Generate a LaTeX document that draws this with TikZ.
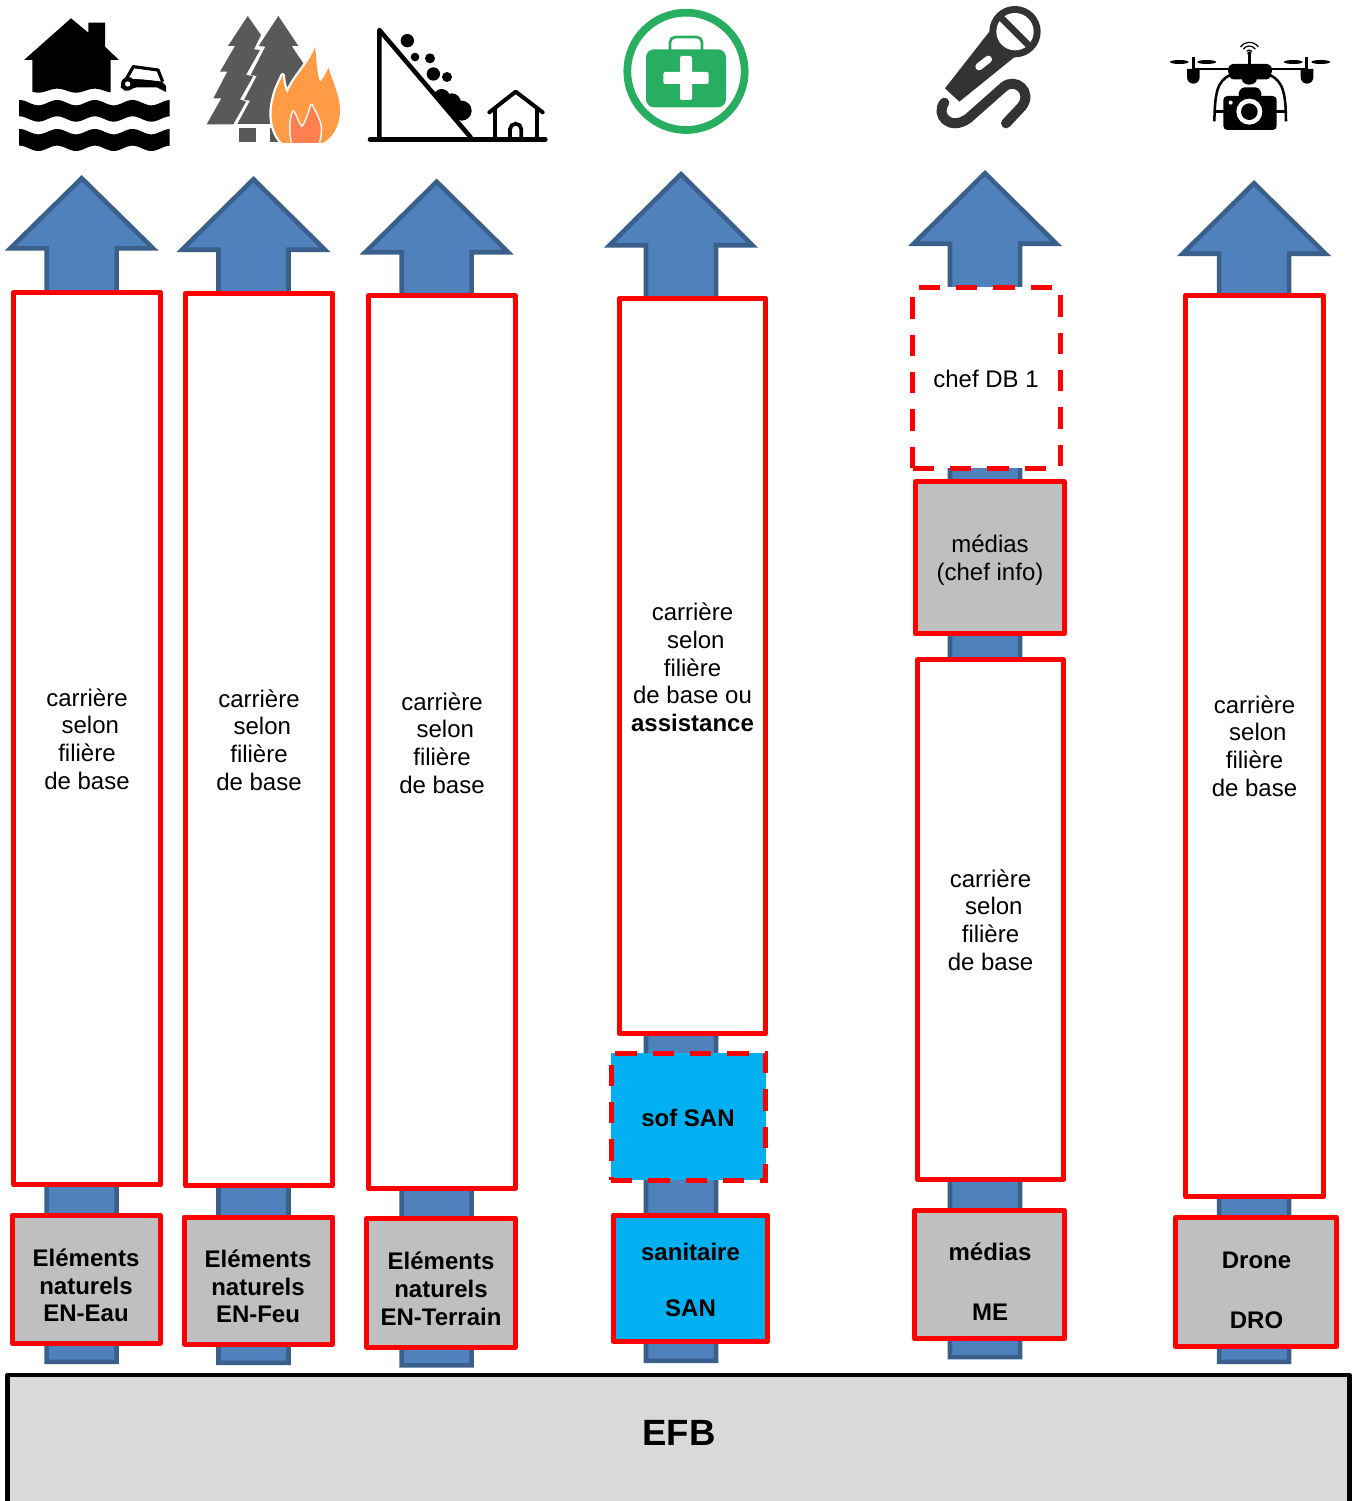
\documentclass[tikz,border=0pt]{standalone}
\usepackage{fontspec}
\setmainfont{Liberation Sans}
\definecolor{arrowfill}{HTML}{4F81BD}
\definecolor{arrowline}{HTML}{3A5F8B}
\definecolor{boxgrey}{HTML}{BFBFBF}
\definecolor{boxblue}{HTML}{00B0F0}
\definecolor{efbgrey}{HTML}{D9D9D9}
\definecolor{treegrey}{HTML}{595959}
\definecolor{flameout}{HTML}{FF9A45}
\definecolor{flamein}{HTML}{FF7F50}
\definecolor{medgreen}{HTML}{27AE60}
\definecolor{micgrey}{HTML}{333333}
\tikzset{
  redbox/.style={draw=red,line width=3.75pt,line join=round,inner sep=0pt,fill=white},
  reddash/.style={redbox,dash pattern=on 16pt off 12pt},
  txt/.style={align=center,inner sep=0pt,font=\fontsize{18pt}{20.8pt}\selectfont},
  btxt/.style={txt,font=\fontsize{18pt}{20.8pt}\selectfont\bfseries},
  icon/.style={x=.25pt,y=-.25pt},
  blockarrow/.style={draw=arrowline,fill=arrowfill,line width=3.4pt,line join=miter}
}
% cx, outer tip y, outer head-base y, outer bottom y
\newcommand{\blockarrow}[4]{%
  \draw[blockarrow] (#1,#2+3.2) -- (#1+71.5,#3-2.25) -- (#1+35,#3-2.25) -- (#1+35,#4-2.25)
    -- (#1-35,#4-2.25) -- (#1-35,#3-2.25) -- (#1-71.5,#3-2.25) -- cycle;}
% name, style, outer x0 x1 y0 y1
\newcommand{\outerbox}[6]{%
  \node[#2,minimum width={(#4-#3-5)*0.75pt},minimum height={(#6-#5-5)*0.75pt}] (#1) at ({(#3+#4)/2},{(#5+#6)/2}) {};}
\newcommand{\waveband}[2]{%
  \fill plot[domain=57:509,samples=70] (\x,{#1+8*cos((\x-115)/113*360)})
     -- plot[domain=509:57,samples=70] (\x,{#2+8*cos((\x-115)/113*360)}) -- cycle;}
\newcommand{\flameouter}{(850,432) .. controls (825,410) and (805,360) .. (820,300) .. controls (825,270) and (840,245) .. (848,225)
  .. controls (850,250) and (855,270) .. (862,280) .. controls (880,230) and (930,190) .. (945,140)
  .. controls (950,180) and (950,220) .. (960,245) .. controls (970,235) and (980,220) .. (985,202)
  .. controls (1000,250) and (1020,290) .. (1020,330) .. controls (1020,380) and (995,420) .. (960,432) -- cycle}
\newcommand{\flameinner}{(878,432) .. controls (868,400) and (870,355) .. (880,335) .. controls (890,350) and (895,375) .. (905,382)
  .. controls (918,375) and (925,340) .. (935,315) .. controls (945,340) and (965,365) .. (962,395)
  .. controls (962,410) and (958,420) .. (955,432) -- cycle}
\begin{document}
\begin{tikzpicture}[x=.75pt,y=-.75pt]
\useasboundingbox (0,0) rectangle (1357,1501);
\clip (0,0) rectangle (1357,1501);

% ---------- arrows
\blockarrow{81.7}{175}{250.7}{1364}
\blockarrow{253.5}{176}{252}{1365}
\blockarrow{436.7}{178.5}{254.5}{1367.7}
\blockarrow{681}{171}{247.5}{1363}
\blockarrow{985}{170}{246}{1359.3}
\blockarrow{1254}{180}{256}{1364}

% ---------- EFB base
\node[draw=black,fill=efbgrey,line width=3.4pt,line join=round,inner sep=0pt,
  minimum width={1342*0.75pt},minimum height={180*0.75pt}] (efb) at (678.5,1465) {};
\node[font=\fontsize{27.4pt}{32pt}\selectfont\bfseries,inner sep=0pt] (efbt) at (679,1433) {EFB};

% ---------- boxes
\outerbox{a1}{redbox}{11}{163.3}{290}{1187}
\outerbox{a2}{redbox}{183.3}{334.7}{291}{1188.3}
\outerbox{a3}{redbox}{365.7}{517.7}{293.5}{1191}
\outerbox{a4}{redbox}{616.7}{768.3}{296}{1036}
\outerbox{a5}{reddash}{910.2}{1062.5}{284.8}{470.5}
\outerbox{m5}{redbox,fill=boxgrey}{912.7}{1066.7}{479.3}{636}
\outerbox{w5}{redbox}{915}{1066}{657.3}{1182.3}
\outerbox{a6}{redbox}{1183.3}{1325.7}{292.7}{1199.3}

\outerbox{g1}{redbox,fill=boxgrey}{9.5}{163}{1213}{1345.5}
\outerbox{g2}{redbox,fill=boxgrey}{182}{335}{1214.5}{1346.5}
\outerbox{g3}{redbox,fill=boxgrey}{364}{518}{1216}{1349.5}
\node[fill=boxblue,inner sep=0pt,outer sep=0pt,minimum width={154.7*0.75pt},minimum height={127*0.75pt}] (s4) at (688.35,1116.5) {};
\draw[draw=red,line width=3.75pt,dash pattern=on 16pt off 12pt] (s4.south west) -- (s4.south east) -- (s4.north east) -- (s4.north west) -- cycle;
\outerbox{g4}{redbox,fill=boxblue}{610.7}{770}{1212.7}{1344.3}
\outerbox{g5}{redbox,fill=boxgrey}{912}{1066.7}{1207.7}{1341}
\outerbox{g6}{redbox,fill=boxgrey}{1173.3}{1339}{1215}{1349}

% ---------- texts
\node[txt] (ta1) at (87,739) {carrière\\\hspace*{.278em}selon\\filière\\de base};
\node[txt] (ta2) at (259,740) {carrière\\\hspace*{.278em}selon\\filière\\de base};
\node[txt] (ta3) at (442,743) {carrière\\\hspace*{.278em}selon\\filière\\de base};
\node[txt] (ta4) at (692.5,667.5) {carrière\\\hspace*{.278em}selon\\filière\\de base ou\\\textbf{assistance}};
\node[txt] (ta5) at (986,379) {chef DB 1};
\node[txt] (tm5) at (990,560.5) {médias\\(chef info)};
\node[txt] (tw5) at (990.5,920) {carrière\\\hspace*{.278em}selon\\filière\\de base};
\node[txt] (ta6) at (1254.5,746) {carrière\\\hspace*{.278em}selon\\filière\\de base};
\node[btxt] (tg1) at (86,1285.5) {Eléments\\naturels\\EN-Eau};
\node[btxt] (tg2) at (258,1286.5) {Eléments\\naturels\\EN-Feu};
\node[btxt] (tg3) at (441,1289) {Eléments\\naturels\\EN-Terrain};
\node[btxt] (ts4) at (688,1118) {sof SAN};
\node[btxt] (tg4) at (690.5,1280) {sanitaire\\[20.8pt]SAN};
\node[btxt] (tg5) at (990,1282) {médias\\[24.2pt]ME};
\node[btxt] (tg6) at (1256.5,1290) {Drone\\[24.2pt]DRO};

% ---------- icon: flood
\begin{scope}[icon]
\fill (213,55) -- (265,98) -- (265,68) -- (315,68) -- (315,140) -- (357,180) -- (332,180) -- (332,265)
  -- plot[domain=332:97,samples=30] (\x,{272+6*cos((\x-115)/113*360)}) -- (97,180) -- (72,180) -- cycle;
\waveband{308}{357}
\waveband{395}{445}
% car
\draw[line width=2.4pt,line join=round] (378,238) -- (400,200) -- (474,210) -- (488,245);
\fill (368,240) -- (390,232) -- (486,245) -- (498,258) -- (498,276) -- (470,262) -- (410,262) -- (375,272) -- (362,262) -- cycle;
\fill[white] (395,236) -- (402,208) -- (468,216) -- (478,242) -- cycle;
\fill (383,252) circle (20);
\fill[white] (383,252) circle (8);
\end{scope}

% ---------- icon: forest fire
\begin{scope}[icon]
\fill[treegrey] (743,48) -- (684,138) -- (705,138) -- (660,215) -- (682,215) -- (640,295) -- (664,295) -- (620,373)
  -- (700,373) -- (738,305) -- (720,298) -- (760,228) -- (738,225) -- (780,150) -- (762,148) -- (783,105) -- cycle;
\fill[treegrey] (835,48) -- (776,138) -- (796,140) -- (752,225) -- (770,228) -- (732,300) -- (750,302) -- (712,372)
  -- (880,372) -- (910,190) -- (875,138) -- (895,138) -- cycle;
\fill[treegrey] (718,385) rectangle (768,425);
\fill[treegrey] (810,385) rectangle (845,425);
\draw[white,line width=3.4pt,line join=round] \flameouter;
\fill[flameout] \flameouter;
\draw[white,line width=2.2pt,line join=round] \flameinner;
\fill[flamein] \flameinner;
\fill[white] (800,428) rectangle (1040,445);
\end{scope}

% ---------- icon: landslide
\begin{scope}[icon,xshift=262.5pt]
\draw[line width=3.4pt,line cap=round,line join=round] (60,418) -- (586,418);
\draw[line width=3.4pt,line cap=round,line join=round] (88,418) -- (88,90) -- (362,412);
\fill (172,122) circle (20) (195,171) circle (13) (240,175) circle (15) (250,222) circle (20) (291,231) circle (15);
\begin{scope}
\clip (88,90) -- (362,412) -- (500,412) -- (500,90) -- cycle;
\fill (275,292) circle (25) (305,308) circle (28) (335,332) circle (30);
\end{scope}
\draw[line width=3pt,line cap=round,line join=round] (418,337) -- (497,275) -- (578,337);
\draw[line width=3pt] (435,328) -- (435,414) (562,328) -- (562,414);
\draw[line width=2.8pt] (480,414) -- (480,388) arc (180:360:17) -- (514,414);
\end{scope}

% ---------- icon: first aid
\begin{scope}[icon,xshift=262.5pt]
\draw[medgreen,line width=5.8pt] (1008,214) circle (176);
\fill[medgreen,rounded corners=6pt] (888,148) rectangle (1128,322);
\draw[medgreen,line width=2pt,rounded corners=4pt] (960,150) -- (960,111) -- (1056,111) -- (1056,150);
\fill[white,rounded corners=1.5pt] (990,168) rectangle (1026,300);
\fill[white,rounded corners=1.5pt] (940,216) rectangle (1076,252);
\end{scope}

% ---------- icon: microphone
\begin{scope}[icon,xshift=675pt]
\fill[micgrey] (268,95) -- (135,265) -- (178,305) -- (345,170) -- cycle;
\fill[micgrey] (345,95) circle (77);
\fill[white] (345,95) circle (56);
\draw[micgrey,line width=5pt] (303,53) -- (387,137);
\draw[white,line width=5.5pt,line cap=round] (237,200) -- (265,178);
\draw[micgrey,line width=7.5pt,line cap=round] (133,308) .. controls (105,345) and (150,395) .. (205,355)
   -- (310,262) .. controls (345,230) and (400,275) .. (365,320) -- (318,370);
\end{scope}

% ---------- icon: drone
\begin{scope}[icon,xshift=675pt]
\draw[line width=.9pt] (1048,160) ++(-35:10) arc (-35:-145:10);
\draw[line width=.9pt] (1048,160) ++(-35:22) arc (-35:-145:22);
\draw[line width=.9pt] (1048,160) ++(-35:33) arc (-35:-145:33);
\fill (1048,160) circle (6);
\draw[line width=2pt] (1048,165) -- (1048,200);
\draw[line width=1.5pt] (880,207) -- (1220,207);
\fill[rounded corners=2pt] (982,207) -- (992,192) -- (1108,192) -- (1118,207) -- (1108,238) -- (992,238) -- cycle;
\fill (1048,238) ellipse (22 and 16);
\draw[line width=2.5pt] (880,172) -- (880,215);
\draw[line width=2.5pt] (1220,172) -- (1220,215);
\fill (861,207) -- (899,207) -- (899,232) arc (0:180:19) -- cycle;
\fill (1202,207) -- (1240,207) -- (1240,232) arc (0:180:19) -- cycle;
\fill (838,186) ellipse (28 and 6);
\fill (920,186) ellipse (28 and 6);
\fill (1180,186) ellipse (28 and 6);
\fill (1262,186) ellipse (28 and 6);
\draw[line width=1.9pt] (990,225) .. controls (950,245) and (945,280) .. (943,364);
\draw[line width=1.9pt] (1110,225) .. controls (1150,245) and (1157,280) .. (1158,364);
\draw[line width=2pt] (943,335) -- (975,335) (1125,335) -- (1158,335);
\fill[rounded corners=3pt] (970,288) rectangle (1130,390);
\fill[rounded corners=3pt] (1012,292) -- (1022,262) -- (1078,262) -- (1088,292) -- cycle;
\fill[white] (1048,335) circle (39);
\fill (1048,335) circle (25);
\fill[white] (992,308) circle (6);
\end{scope}
\end{tikzpicture}
\end{document}
